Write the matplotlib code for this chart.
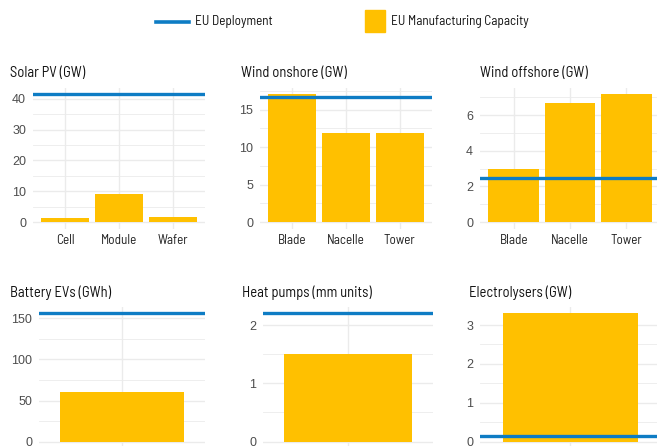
import matplotlib
matplotlib.use("Agg")
import matplotlib.pyplot as plt
from matplotlib.lines import Line2D
from matplotlib.patches import Rectangle
from matplotlib.ticker import MultipleLocator

W, H = 657, 446
YELLOW = "#FFC000"
BLUE = "#0E7CC4"
GRID = "#EBEBEB"
COND = ["Barlow Semi Condensed", "Roboto Condensed", "IBM Plex Sans Condensed", "DejaVu Sans"]
REG = ["Liberation Sans", "DejaVu Sans"]

# data
solar_cats = ["Cell", "Module", "Wafer"]
solar_cap = [1.2, 9.2, 1.7]
solar_deploy = 41.6

onshore_cats = ["Blade", "Nacelle", "Tower"]
onshore_cap = [17.1, 11.9, 11.9]
onshore_deploy = 16.7

offshore_cats = ["Blade", "Nacelle", "Tower"]
offshore_cap = [3.0, 6.7, 7.2]
offshore_deploy = 2.5

battery_cats = ["Battery"]
battery_cap = [60]
battery_deploy = 156

heat_cats = ["Heat pump"]
heat_cap = [1.5]
heat_deploy = 2.2

electro_cats = ["Electrolyser"]
electro_cap = [3.3]
electro_deploy = 0.15


def box(l, r, t, b):
    return [l / W, 1 - b / H, (r - l) / W, (b - t) / H]


def panel(fig, rect, title, title_xy, cats, cap, deploy, major, minor, show_x=True):
    ax = fig.add_axes(rect)
    x = list(range(len(cats)))
    ax.bar(x, cap, width=0.9, color=YELLOW, zorder=2)
    ax.axhline(deploy, color=BLUE, lw=2.4, zorder=3)
    m = max(max(cap), deploy)
    ax.set_ylim(-0.05 * m, 1.05 * m)
    ax.set_xlim(-0.6, len(cats) - 0.4)
    ax.set_xticks(x)
    # the bottom row is cut by the figure edge, its category labels fall outside
    ax.set_xticklabels(cats if show_x else [""] * len(cats),
                       fontfamily=COND, fontsize=9.5, color="#222222")
    ax.yaxis.set_major_locator(MultipleLocator(major))
    ax.yaxis.set_minor_locator(MultipleLocator(minor))
    for lbl in ax.get_yticklabels():
        lbl.set_fontfamily(REG)
    ax.tick_params(axis="y", which="both", length=0, pad=5, labelsize=9, labelcolor="#4D4D4D")
    ax.tick_params(axis="x", length=0, pad=4)
    ax.grid(True, which="major", color=GRID, lw=1.0)
    ax.grid(True, which="minor", axis="y", color=GRID, lw=0.6)
    ax.set_axisbelow(True)
    for s in ax.spines.values():
        s.set_visible(False)
    fig.text(title_xy[0] / W, 1 - title_xy[1] / H, title, ha="left", va="center",
             fontfamily=COND, fontsize=10.5, color="#111111")
    return ax


fig = plt.figure(figsize=(W / 100, H / 100), dpi=100)

panel(fig, box(33, 205, 87.5, 228.5), "Solar PV (GW)", (10, 73),
      solar_cats, solar_cap, solar_deploy, 10, 5)
panel(fig, box(260, 432, 87.5, 228.5), "Wind onshore (GW)", (241, 73),
      onshore_cats, onshore_cap, onshore_deploy, 5, 2.5)
panel(fig, box(480, 660, 87.5, 228.5), "Wind offshore (GW)", (480, 73),
      offshore_cats, offshore_cap, offshore_deploy, 2, 1)
panel(fig, box(39, 205, 307, 448), "Battery EVs (GWh)", (10, 293),
      battery_cats, battery_cap, battery_deploy, 50, 25, show_x=False)
panel(fig, box(263, 433, 307, 448), "Heat pumps (mm units)", (242, 293),
      heat_cats, heat_cap, heat_deploy, 1, 0.5, show_x=False)
panel(fig, box(480, 660, 307, 448), "Electrolysers (GW)", (469, 293),
      electro_cats, electro_cap, electro_deploy, 1, 0.5, show_x=False)

# legend drawn in figure pixel coordinates
fig.add_artist(Line2D([156 / W, 189 / W], [1 - 21.5 / H] * 2, color=BLUE, lw=2.6,
                      transform=fig.transFigure))
fig.text(195 / W, 1 - 21 / H, "EU Deployment", ha="left", va="center",
         fontfamily=COND, fontsize=9.5, color="#111111")
fig.add_artist(Rectangle((364.5 / W, 1 - 31.5 / H), 20 / W, 21 / H, color=YELLOW,
                         transform=fig.transFigure))
fig.text(391 / W, 1 - 21 / H, "EU Manufacturing Capacity", ha="left", va="center",
         fontfamily=COND, fontsize=9.5, color="#111111")

fig.savefig("out.png", dpi=100)
